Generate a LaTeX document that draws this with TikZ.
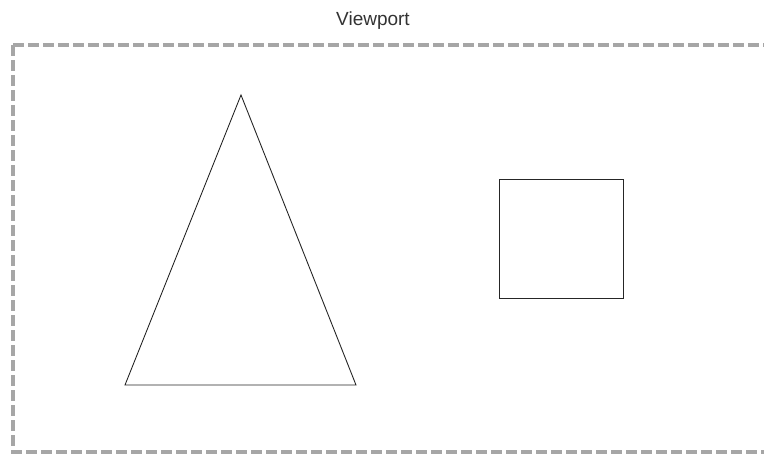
\documentclass[tikz,border=0pt]{standalone}
\usepackage{fontspec}
\setmainfont{Liberation Sans}
\begin{document}
\begin{tikzpicture}[x=1pt,y=-1pt,
  shapeline/.style={draw=black!85, line width=0.9pt},
  viewborder/.style={draw=black!35, line width=4.5pt, dash pattern=on 11pt off 4pt}]
\useasboundingbox (0,0) rectangle (764,460);
\clip (0,0) rectangle (764,460);
\node[font=\fontsize{19}{22}\selectfont, text=black!80] (title) at (373,21) {Viewport};
\draw[viewborder] (13,45) -- (780,45);
\draw[viewborder] (13,45) -- (13,452) -- (780,452);
\coordinate (apex) at (241,95);
\coordinate (bl) at (125,385);
\coordinate (br) at (356,385);
\draw[shapeline] (apex) -- (bl) -- (br) -- cycle;
\coordinate (sq1) at (499,179);
\coordinate (sq2) at (623,298);
\draw[shapeline] (sq1) rectangle (sq2);
\end{tikzpicture}
\end{document}
